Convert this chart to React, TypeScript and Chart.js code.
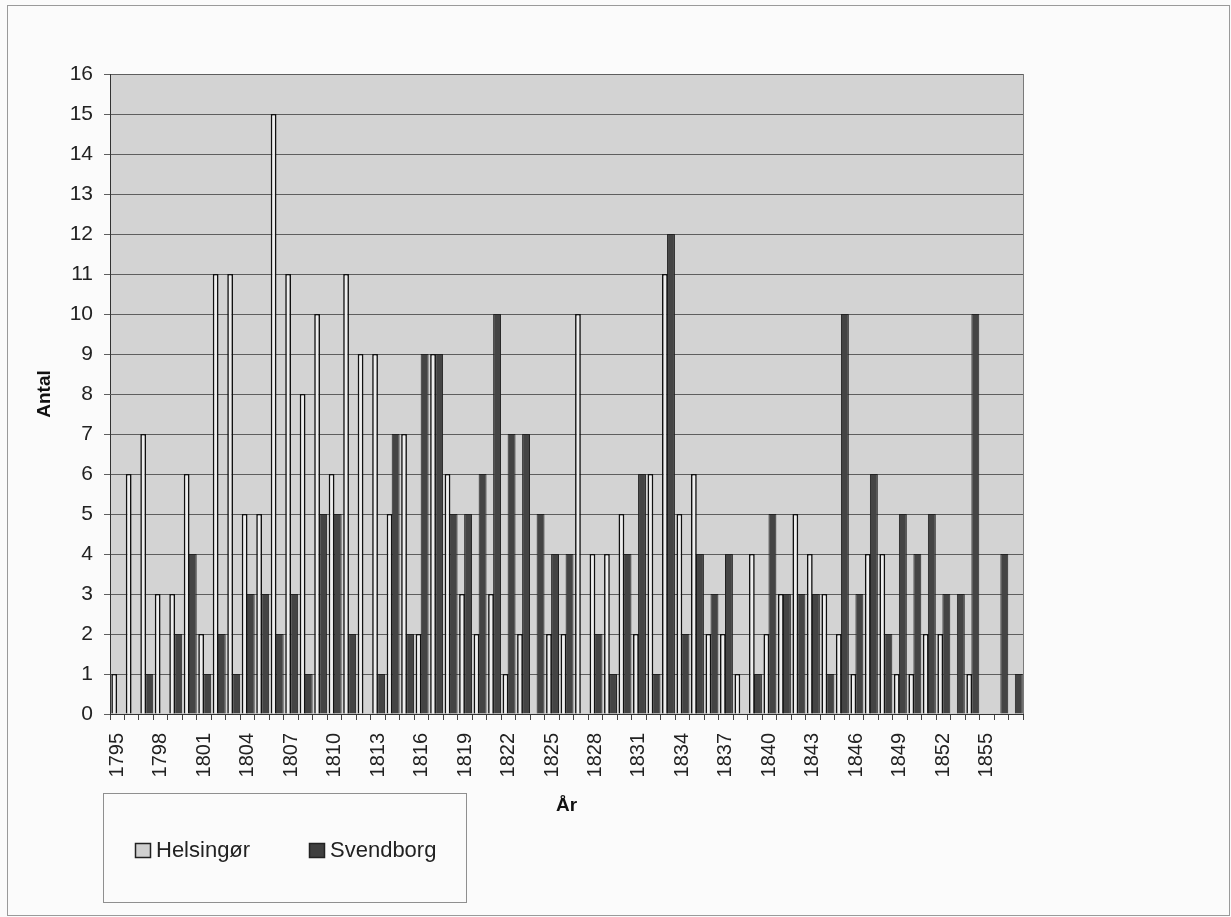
import React, { useEffect, useRef } from "react";
import { Chart, registerables } from "chart.js";

Chart.register(...registerables);

const years = [
  "1795", "1796", "1797", "1798", "1799", "1800", "1801", "1802", "1803", "1804",
  "1805", "1806", "1807", "1808", "1809", "1810", "1811", "1812", "1813", "1814",
  "1815", "1816", "1817", "1818", "1819", "1820", "1821", "1822", "1823", "1824",
  "1825", "1826", "1827", "1828", "1829", "1830", "1831", "1832", "1833", "1834",
  "1835", "1836", "1837", "1838", "1839", "1840", "1841", "1842", "1843", "1844",
  "1845", "1846", "1847", "1848", "1849", "1850", "1851", "1852", "1853", "1854",
  "1855", "1856", "1857",
];

const helsingor = [
  1, 6, 7, 3, 3, 6, 2, 11, 11, 5,
  5, 15, 11, 8, 10, 6, 11, 9, 9, 5,
  7, 2, 9, 6, 3, 2, 3, 1, 2, 0,
  2, 2, 10, 4, 4, 5, 2, 6, 11, 5,
  6, 2, 2, 1, 4, 2, 3, 5, 4, 3,
  2, 1, 4, 4, 1, 1, 2, 2, 0, 1,
  0, 0, 0,
];

const svendborg = [
  0, 0, 1, 0, 2, 4, 1, 2, 1, 3,
  3, 2, 3, 1, 5, 5, 2, 0, 1, 7,
  2, 9, 9, 5, 5, 6, 10, 7, 7, 5,
  4, 4, 0, 2, 1, 4, 6, 1, 12, 2,
  4, 3, 4, 0, 1, 5, 3, 3, 3, 1,
  10, 3, 6, 2, 5, 4, 5, 3, 3, 10,
  0, 4, 1,
];

const seriesNames = ["Helsingør", "Svendborg"];
const yMin = 0;
const yMax = 16;
const labelEvery = 3;

const FONT = "'Liberation Sans', Arial, Helvetica, sans-serif";

const decorPlugin = {
  id: "decor",
  beforeDraw(chart: any) {
    const { ctx, chartArea, width, height } = chart;
    ctx.save();
    ctx.fillStyle = "#fbfbfb";
    ctx.fillRect(0, 0, width, height);
    ctx.fillStyle = "#d3d3d3";
    ctx.fillRect(chartArea.left, chartArea.top, chartArea.right - chartArea.left, chartArea.bottom - chartArea.top);
    ctx.restore();
  },
  afterDatasetsDraw(chart: any) {
    const { ctx, chartArea } = chart;
    ctx.save();
    ctx.strokeStyle = "#7a7a7a";
    ctx.lineWidth = 1;
    ctx.beginPath();
    ctx.moveTo(Math.round(chartArea.right) + 0.5, chartArea.top);
    ctx.lineTo(Math.round(chartArea.right) + 0.5, chartArea.bottom);
    ctx.stroke();
    ctx.restore();
  },
  afterDraw(chart: any) {
    const { ctx } = chart;
    ctx.save();
    // outer frame
    ctx.strokeStyle = "#9a9a9a";
    ctx.lineWidth = 1;
    ctx.strokeRect(7.5, 5.5, 1222, 910);
    // legend box
    ctx.strokeStyle = "#8f8f8f";
    ctx.strokeRect(103.5, 793.5, 363, 109);
    const items = chart.data.datasets.map((d: any, i: number) => ({
      label: d.label,
      fill: i === 0 ? "#d0d0d0" : "#3f3f3f",
      x: i === 0 ? 135 : 309,
    }));
    ctx.font = `22px ${FONT}`;
    ctx.textBaseline = "middle";
    ctx.textAlign = "left";
    items.forEach((it: any) => {
      ctx.fillStyle = it.fill;
      ctx.fillRect(it.x, 843, 16, 15);
      ctx.strokeStyle = "#222";
      ctx.lineWidth = 1.5;
      ctx.strokeRect(it.x + 0.5, 843.5, 15, 14);
      ctx.fillStyle = "#222";
      ctx.fillText(it.label, it.x + 21, 851);
    });
    ctx.restore();
  },
};

export default function App() {
  const canvasRef = useRef<HTMLCanvasElement | null>(null);

  useEffect(() => {
    if (!canvasRef.current) return;
    Chart.defaults.font.family = FONT;
    const chart = new Chart(canvasRef.current, {
      type: "bar",
      data: {
        labels: years,
        datasets: [
          {
            label: seriesNames[0],
            data: helsingor,
            backgroundColor: "#eeeeee",
            borderColor: "#111111",
            borderWidth: 1.6,
            barPercentage: 0.95,
            categoryPercentage: 0.84,
            borderSkipped: "bottom",
          },
          {
            label: seriesNames[1],
            data: svendborg,
            backgroundColor: "#444444",
            borderColor: "#222222",
            borderWidth: 1,
            barPercentage: 1.3,
            categoryPercentage: 0.84,
            borderSkipped: "bottom",
          },
        ],
      },
      options: {
        responsive: false,
        animation: false,
        devicePixelRatio: 1,
        layout: { padding: { top: 74, right: 208, left: 0, bottom: 0 } },
        plugins: {
          legend: { display: false },
          tooltip: { enabled: false },
        },
        scales: {
          x: {
            grid: {
              offset: true,
              drawOnChartArea: false,
              drawTicks: true,
              tickLength: 6,
              color: "#444",
            },
            border: { display: true, color: "#333", width: 1 },
            ticks: {
              autoSkip: false,
              minRotation: 90,
              maxRotation: 90,
              padding: 13,
              color: "#222",
              font: { size: 20 },
              callback: (_v: any, i: number) => (i % labelEvery === 0 ? years[i] : ""),
            },
            title: {
              display: true,
              text: "År",
              color: "#111",
              font: { size: 19, weight: "bold" },
              padding: { top: 0, bottom: 100 },
            },
            afterFit: (s: any) => {
              s.height = 203;
            },
          },
          y: {
            min: yMin,
            max: yMax,
            ticks: {
              stepSize: 1,
              padding: 11,
              color: "#222",
              font: { size: 21 },
            },
            grid: { color: "#5e5e5e", tickLength: 6, lineWidth: 1 },
            border: { color: "#333", width: 1 },
            title: {
              display: true,
              text: "Antal",
              color: "#111",
              font: { size: 19, weight: "bold" },
              padding: { top: 33, bottom: 0 },
            },
            afterFit: (s: any) => {
              s.width = 110;
            },
          },
        },
      },
      plugins: [decorPlugin],
    } as any);
    return () => chart.destroy();
  }, []);

  return (
    <div style={{ position: "absolute", left: 0, top: 0, width: 1231, height: 917 }}>
      <canvas ref={canvasRef} width={1231} height={917} style={{ width: 1231, height: 917, display: "block" }} />
    </div>
  );
}
